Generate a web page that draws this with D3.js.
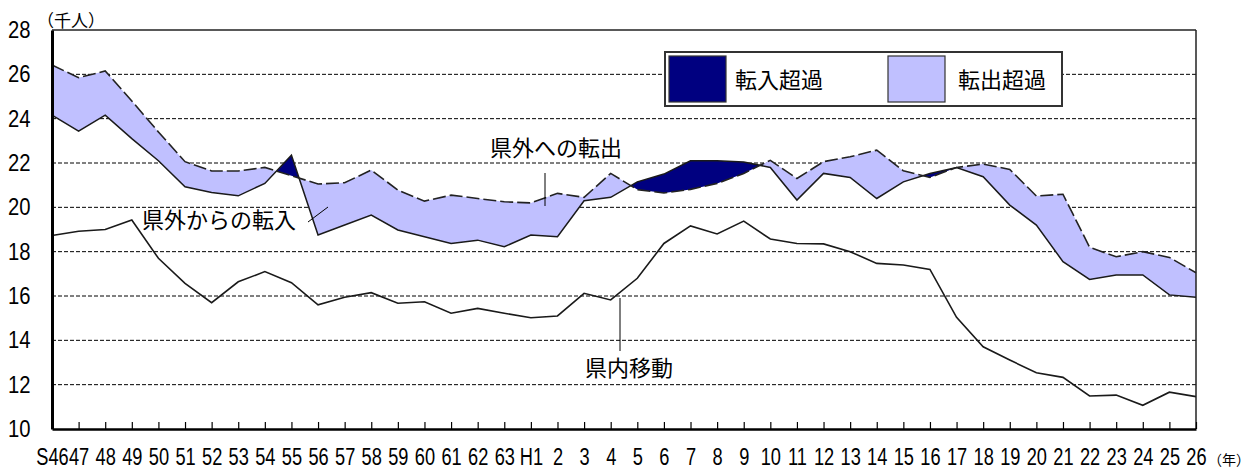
<!DOCTYPE html>
<html><head><meta charset="utf-8">
<script src="https://cdn.jsdelivr.net/npm/d3@7/dist/d3.min.js"></script>
<style>
html,body{margin:0;padding:0;background:#fff;}
svg{display:block;}
</style></head>
<body><svg id="chart" width="1252" height="472"></svg>
<script>
const categories = ["S46","47","48","49","50","51","52","53","54","55","56","57","58","59","60","61","62","63",
  "H1","2","3","4","5","6","7","8","9","10","11","12","13","14","15","16","17","18","19","20","21","22","23","24","25","26"];
// 県外への転出 (千人)
const outMigration = [26.42,25.85,26.15,24.8,23.4,22.06,21.64,21.64,21.8,21.43,21.05,21.11,21.68,20.78,20.28,20.55,20.4,20.25,
  20.2,20.63,20.45,21.53,20.8,20.65,20.81,21.08,21.53,22.12,21.3,22.06,22.28,22.58,21.65,21.35,21.8,21.95,21.71,20.51,20.59,18.2,17.77,18.0,17.74,17.05];
// 県外からの転入 (千人)
const inMigration = [24.16,23.44,24.16,23.1,22.1,20.93,20.67,20.52,21.08,22.35,18.75,19.2,19.65,18.98,18.67,18.37,18.52,18.22,
  18.75,18.67,20.3,20.45,21.15,21.5,22.1,22.1,22.05,21.8,20.33,21.53,21.35,20.4,21.15,21.53,21.8,21.38,20.1,19.2,17.55,16.75,16.95,16.95,16.05,15.94];
// 県内移動 (千人)
const intraMigration = [18.73,18.92,19.0,19.43,17.7,16.57,15.7,16.64,17.1,16.6,15.6,15.94,16.15,15.67,15.74,15.22,15.44,15.22,
  15.02,15.1,16.12,15.82,16.8,18.37,19.16,18.8,19.38,18.57,18.37,18.35,18.0,17.47,17.4,17.2,15.04,13.71,13.11,12.54,12.33,11.49,11.53,11.07,11.66,11.46];
const yTicks = [10,12,14,16,18,20,22,24,26,28];
const legendItems = ["転入超過","転出超過"];

const L = 52, R = 1196, T = 30, B = 429;
const svg = d3.select("#chart");
const x = d3.scalePoint().domain(categories).range([L, R]);
const y = d3.scaleLinear().domain([10, 28]).range([B, T]);
const LIGHT = "#C0C0FF", NAVY = "#000080";
const JP = "'Noto Sans CJK JP','Noto Sans',sans-serif";
const NUM = "'Liberation Sans',Arial,sans-serif";

const data = categories.map((c, i) => ({c, o: outMigration[i], n: inMigration[i], m: intraMigration[i]}));

// gridlines
svg.append("g").selectAll("line").data(yTicks.filter(v => v > 10 && v < 28)).join("line")
  .attr("x1", L).attr("x2", R).attr("y1", d => y(d)).attr("y2", d => y(d))
  .attr("stroke", "#000").attr("stroke-width", 1).attr("stroke-dasharray", "4,2");

// clip paths relative to in-migration line
const defs = svg.append("defs");
defs.append("clipPath").attr("id", "aboveIn").append("path")
  .attr("d", d3.area().x(d => x(d.c)).y0(T - 5).y1(d => y(d.n))(data));
defs.append("clipPath").attr("id", "belowIn").append("path")
  .attr("d", d3.area().x(d => x(d.c)).y0(B + 5).y1(d => y(d.n))(data));

const band = d3.area().x(d => x(d.c)).y0(d => y(d.n)).y1(d => y(d.o));
svg.append("path").attr("d", band(data)).attr("fill", LIGHT).attr("clip-path", "url(#aboveIn)");
svg.append("path").attr("d", band(data)).attr("fill", NAVY).attr("clip-path", "url(#belowIn)");

// lines
const line = key => d3.line().x(d => x(d.c)).y(d => y(d[key]));
svg.append("path").attr("d", line("n")(data)).attr("fill", "none").attr("stroke", "#1a1a1a").attr("stroke-width", 1.5);
svg.append("path").attr("d", line("o")(data)).attr("fill", "none").attr("stroke", "#222").attr("stroke-width", 1.6)
  .attr("stroke-dasharray", "13,4");
svg.append("path").attr("d", line("m")(data)).attr("fill", "none").attr("stroke", "#1a1a1a").attr("stroke-width", 1.6);

// frame
svg.append("line").attr("x1", L).attr("x2", R).attr("y1", T).attr("y2", T).attr("stroke", "#222").attr("stroke-width", 1.5);
svg.append("line").attr("x1", R).attr("x2", R).attr("y1", T).attr("y2", B).attr("stroke", "#222").attr("stroke-width", 1.5);

// x axis (inward ticks)
const xAxis = svg.append("g").attr("transform", `translate(0,${B})`)
  .call(d3.axisBottom(x).tickSizeInner(-7).tickSizeOuter(0).tickPadding(19));
xAxis.select(".domain").attr("stroke", "#000").attr("stroke-width", 2.5);
xAxis.selectAll(".tick line").attr("stroke", "#000").attr("stroke-width", 1.2);
xAxis.selectAll(".tick text").attr("font-family", NUM).attr("font-size", 24).attr("fill", "#000")
  .attr("transform", "scale(0.76,1)");

// y axis
const yAxis = svg.append("g").attr("transform", `translate(${L},0)`)
  .call(d3.axisLeft(y).tickValues(yTicks).tickSize(0).tickPadding(20).tickFormat(d3.format("d")));
yAxis.select(".domain").attr("stroke", "#000").attr("stroke-width", 3);
yAxis.selectAll(".tick text").attr("font-family", NUM).attr("font-size", 23).attr("fill", "#000")
  .attr("transform", "translate(-32,0) scale(0.88,1) translate(32,0)");

// units
svg.append("text").attr("x", 37).attr("y", 27).attr("font-family", JP).attr("font-size", 17).text("（千人）");
svg.append("text").attr("x", 1208).attr("y", 465).attr("font-family", JP).attr("font-size", 14).text("（年）");

// legend
const lg = svg.append("g");
lg.append("rect").attr("x", 665).attr("y", 52).attr("width", 397).attr("height", 54)
  .attr("fill", "#fff").attr("stroke", "#333").attr("stroke-width", 2);
const lx = [669, 888], tx = [735, 958], cols = [NAVY, LIGHT];
legendItems.forEach((t, i) => {
  lg.append("rect").attr("x", lx[i]).attr("y", 56).attr("width", 57).attr("height", 46)
    .attr("fill", cols[i]).attr("stroke", "#333").attr("stroke-width", 1.2);
  lg.append("text").attr("x", tx[i]).attr("y", 88).attr("font-family", JP).attr("font-size", 22).text(t);
});

// annotations
const ann = svg.append("g").attr("font-family", JP).attr("font-size", 22).attr("fill", "#000");
ann.append("text").attr("x", 142).attr("y", 228).text("県外からの転入");
svg.append("line").attr("x1", 308).attr("y1", 222).attr("x2", 328).attr("y2", 207).attr("stroke", "#000").attr("stroke-width", 1);
ann.append("text").attr("x", 490).attr("y", 156).text("県外への転出");
svg.append("line").attr("x1", 545).attr("y1", 173).attr("x2", 545).attr("y2", 206).attr("stroke", "#000").attr("stroke-width", 1);
ann.append("text").attr("x", 585).attr("y", 376).text("県内移動");
svg.append("line").attr("x1", 620).attr("y1", 298).attr("x2", 620).attr("y2", 351).attr("stroke", "#000").attr("stroke-width", 1);
</script></body></html>
